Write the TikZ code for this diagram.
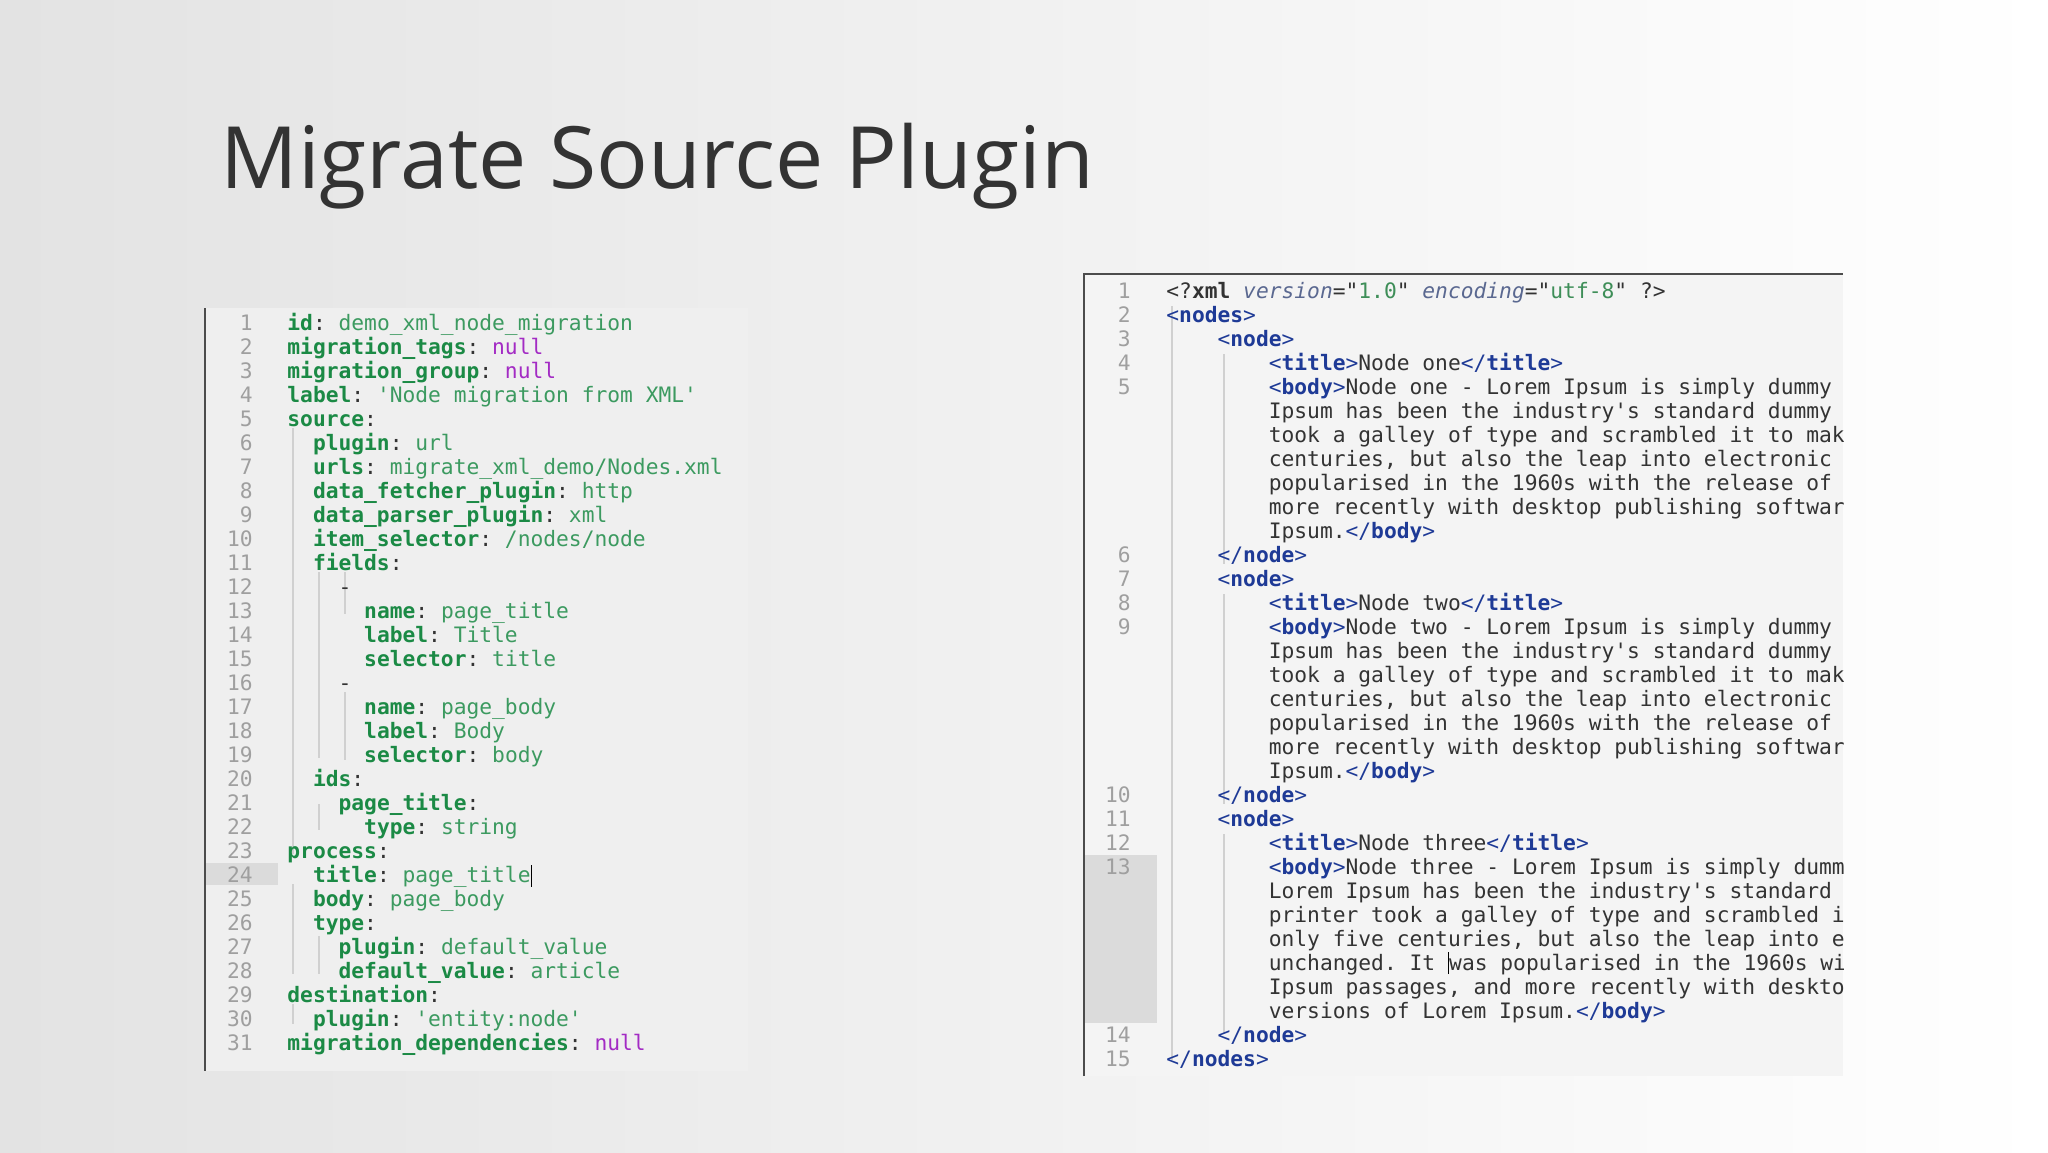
\documentclass[tikz,border=0pt]{standalone}
\usepackage{fontspec}
\setmainfont{Open Sans}
\setmonofont{DejaVu Sans Mono}
\definecolor{keyg}{HTML}{1B8A45}
\definecolor{valg}{HTML}{3C9A60}
\definecolor{nullp}{HTML}{A32BC4}
\definecolor{tagb}{HTML}{1E3A96}
\definecolor{attrc}{HTML}{5A6890}
\definecolor{strg}{HTML}{3E8E58}
\definecolor{txt}{HTML}{333333}
\definecolor{panel}{HTML}{EFEFEF}
\definecolor{guide}{HTML}{D0D0D0}
\newcommand{\ky}[1]{\textcolor{keyg}{\textbf{#1}}}
\newcommand{\vl}[1]{\textcolor{valg}{#1}}
\newcommand{\nl}{\textcolor{nullp}{null}}
\newcommand{\tg}[1]{\textcolor{tagb}{<\textbf{#1}>}}
\newcommand{\ctg}[1]{\textcolor{tagb}{</\textbf{#1}>}}
\tikzset{
 code/.style={anchor=base west,inner sep=0pt,font=\ttfamily\fontsize{10.63}{12}\selectfont,text=txt},
 lnum/.style={anchor=base east,inner sep=0pt,font=\ttfamily\fontsize{10.63}{12}\selectfont,text=gray!75},
 guideline/.style={draw=guide,line width=0.6pt}
}
\begin{document}
\begin{tikzpicture}[x=0.5pt,y=-0.5pt]
\shade[left color=black!11,right color=white,shading angle=90] (0,0) rectangle (2048,1152);
\useasboundingbox (0,0) rectangle (2048,1152);
\node[anchor=base west,inner sep=0pt,font=\fontsize{43}{48}\selectfont,text=txt] (title) at (220,188) {Migrate Source Plugin};
% left panel
\fill[panel] (205,308) rectangle (748,1071);
\fill[black!14] (205,863) rectangle (278,885);
\draw[black!70,line width=1.2pt] (205,308) -- (205,1071);
\def\cx{287}\def\cw{12.8}
\foreach \r in {1,...,31} \node[lnum] (ln\r) at (253,{330.6+(\r-1)*24}) {\r};
\draw[guideline] (293,428) -- (293,854);
\draw[guideline] (293,884) -- (293,974);
\draw[guideline] (293,1004) -- (293,1024);
\draw[guideline] (319,572) -- (319,758);
\draw[guideline] (319,804) -- (319,830);
\draw[guideline] (345,572) -- (345,614);
\draw[guideline] (345,692) -- (345,760);
\draw[guideline] (319,936) -- (319,974);
\def\L#1#2#3{\node[code] (c#1) at ({\cx+#2*\cw},{330.6+(#1-1)*24}) {#3};}
\L{1}{0}{\ky{id}: \vl{demo\_xml\_node\_migration}}
\L{2}{0}{\ky{migration\_tags}: \nl}
\L{3}{0}{\ky{migration\_group}: \nl}
\L{4}{0}{\ky{label}: \vl{'Node migration from XML'}}
\L{5}{0}{\ky{source}:}
\L{6}{2}{\ky{plugin}: \vl{url}}
\L{7}{2}{\ky{urls}: \vl{migrate\_xml\_demo/Nodes.xml}}
\L{8}{2}{\ky{data\_fetcher\_plugin}: \vl{http}}
\L{9}{2}{\ky{data\_parser\_plugin}: \vl{xml}}
\L{10}{2}{\ky{item\_selector}: \vl{/nodes/node}}
\L{11}{2}{\ky{fields}:}
\L{12}{4}{-}
\L{13}{6}{\ky{name}: \vl{page\_title}}
\L{14}{6}{\ky{label}: \vl{Title}}
\L{15}{6}{\ky{selector}: \vl{title}}
\L{16}{4}{-}
\L{17}{6}{\ky{name}: \vl{page\_body}}
\L{18}{6}{\ky{label}: \vl{Body}}
\L{19}{6}{\ky{selector}: \vl{body}}
\L{20}{2}{\ky{ids}:}
\L{21}{4}{\ky{page\_title}:}
\L{22}{6}{\ky{type}: \vl{string}}
\L{23}{0}{\ky{process}:}
\L{24}{2}{\ky{title}: \vl{page\_title}\textcolor{black}{\rule[-2pt]{0.6pt}{11pt}}}
\L{25}{2}{\ky{body}: \vl{page\_body}}
\L{26}{2}{\ky{type}:}
\L{27}{4}{\ky{plugin}: \vl{default\_value}}
\L{28}{4}{\ky{default\_value}: \vl{article}}
\L{29}{0}{\ky{destination}:}
\L{30}{2}{\ky{plugin}: \vl{'entity:node'}}
\L{31}{0}{\ky{migration\_dependencies}: \nl}
% right panel
\fill[panel!70!white] (1084,274) rectangle (1843,1076);
\fill[black!14] (1085,855) rectangle (1157,1023);
\draw[black!70,line width=1.2pt] (1084,1076) -- (1084,274) -- (1843,274);
\def\rx{1166}
\foreach \r/\n in {1/1,2/2,3/3,4/4,5/5,12/6,13/7,14/8,15/9,22/10,23/11,24/12,25/13,32/14,33/15}
  \node[lnum] (rn\n) at (1131,{298+(\r-1)*24}) {\n};
\draw[guideline] (1172,306) -- (1172,1060);
\draw[guideline] (1224,354) -- (1224,564);
\draw[guideline] (1224,594) -- (1224,804);
\draw[guideline] (1224,834) -- (1224,1034);
\begin{scope}
\clip (1084,274) rectangle (1843,1076);
\def\R#1#2#3{\node[code] (r#1) at ({\rx+#2*\cw},{298+(#1-1)*24}) {#3};}
\R{1}{0}{<?\textbf{xml} \textcolor{attrc}{\itshape version}="\textcolor{strg}{1.0}" \textcolor{attrc}{\itshape encoding}="\textcolor{strg}{utf-8}" ?>}
\R{2}{0}{\tg{nodes}}
\R{3}{4}{\tg{node}}
\R{4}{8}{\tg{title}Node one\ctg{title}}
\R{5}{8}{\tg{body}Node one - Lorem Ipsum is simply dummy text}
\R{6}{8}{Ipsum has been the industry's standard dummy text}
\R{7}{8}{took a galley of type and scrambled it to make}
\R{8}{8}{centuries, but also the leap into electronic typesetting}
\R{9}{8}{popularised in the 1960s with the release of Letraset}
\R{10}{8}{more recently with desktop publishing software}
\R{11}{8}{Ipsum.\ctg{body}}
\R{12}{4}{\ctg{node}}
\R{13}{4}{\tg{node}}
\R{14}{8}{\tg{title}Node two\ctg{title}}
\R{15}{8}{\tg{body}Node two - Lorem Ipsum is simply dummy text}
\R{16}{8}{Ipsum has been the industry's standard dummy text}
\R{17}{8}{took a galley of type and scrambled it to make}
\R{18}{8}{centuries, but also the leap into electronic typesetting}
\R{19}{8}{popularised in the 1960s with the release of Letraset}
\R{20}{8}{more recently with desktop publishing software}
\R{21}{8}{Ipsum.\ctg{body}}
\R{22}{4}{\ctg{node}}
\R{23}{4}{\tg{node}}
\R{24}{8}{\tg{title}Node three\ctg{title}}
\R{25}{8}{\tg{body}Node three - Lorem Ipsum is simply dummy text}
\R{26}{8}{Lorem Ipsum has been the industry's standard dummy}
\R{27}{8}{printer took a galley of type and scrambled it to}
\R{28}{8}{only five centuries, but also the leap into electronic}
\R{29}{8}{unchanged. It \textcolor{black}{\rule[-2pt]{0.6pt}{11pt}}was popularised in the 1960s with}
\R{30}{8}{Ipsum passages, and more recently with desktop}
\R{31}{8}{versions of Lorem Ipsum.\ctg{body}}
\R{32}{4}{\ctg{node}}
\R{33}{0}{\ctg{nodes}}
\end{scope}
\end{tikzpicture}
\end{document}
